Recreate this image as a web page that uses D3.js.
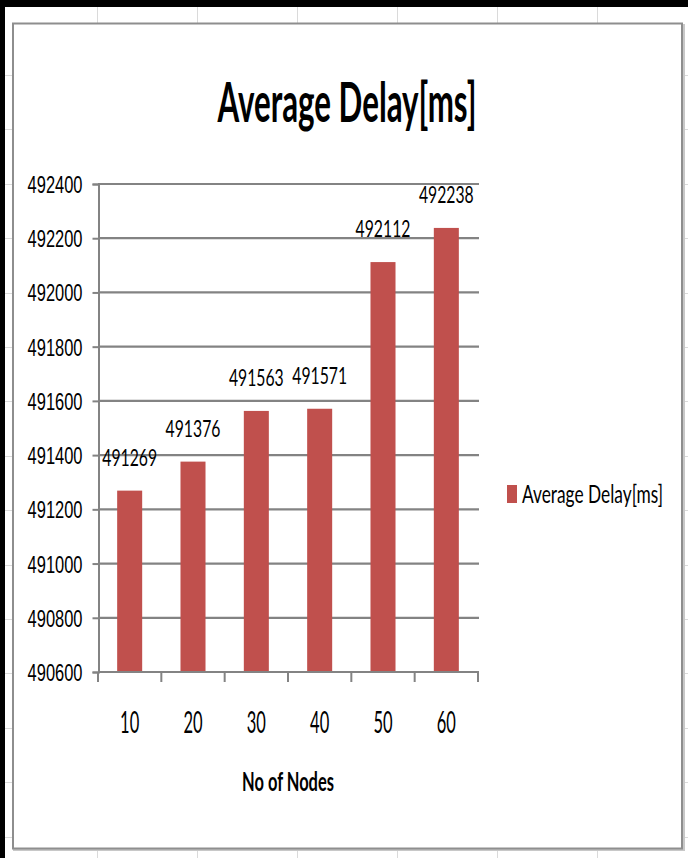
<!DOCTYPE html>
<html>
<head>
<meta charset="utf-8">
<script src="https://cdn.jsdelivr.net/npm/d3@7/dist/d3.min.js"></script>
<style>
  body { margin: 0; background: #fff; }
  svg { display: block; font-family: Lato, 'Open Sans', sans-serif; }
</style>
</head>
<body>
<div class="chart"></div>
<script>
const nodes = ['10', '20', '30', '40', '50', '60']
const avgDelay = [491269, 491376, 491563, 491571, 492112, 492238]
const yTicks = [490600, 490800, 491000, 491200, 491400, 491600, 491800, 492000, 492200, 492400]
const chartTitle = 'Average Delay[ms]'
const xTitle = 'No of Nodes'
const seriesName = 'Average Delay[ms]'

const W = 688
const H = 858
const barColor = '#c0504d'
const gridColor = '#838383'

// squeeze text horizontally, the picture is a stretched Excel chart
const squeeze = (sel, f) => {
  sel.each(function() {
    const n = this.getComputedTextLength()
    d3.select(this)
      .attr('textLength', n * f)
      .attr('lengthAdjust', 'spacingAndGlyphs')
  })
}

const svg = d3
  .select('.chart')
  .append('svg')
  .attr('width', W)
  .attr('height', H)

// spreadsheet cells behind the chart
const sheet = svg.append('g').attr('stroke', '#dadada').attr('stroke-width', 1)
d3.range(97, W, 100).forEach(cx => {
  sheet.append('line').attr('x1', cx + 0.5).attr('x2', cx + 0.5).attr('y1', 0).attr('y2', H)
})
d3.range(75, H, 54.4).forEach(cy => {
  sheet.append('line').attr('x1', 0).attr('x2', W).attr('y1', Math.round(cy) + 0.5).attr('y2', Math.round(cy) + 0.5)
})

// window edges
svg.append('rect').attr('x', 0).attr('y', 0).attr('width', W).attr('height', 7).attr('fill', '#000')
svg.append('rect').attr('x', 0).attr('y', 0).attr('width', 5).attr('height', H).attr('fill', '#000')

// chart frame with a little shadow
svg
  .append('rect')
  .attr('x', 14)
  .attr('y', 25)
  .attr('width', 670)
  .attr('height', 825)
  .attr('fill', 'none')
  .attr('stroke', '#c8c8c8')
  .attr('stroke-width', 2)
svg
  .append('rect')
  .attr('x', 13)
  .attr('y', 23.5)
  .attr('width', 669)
  .attr('height', 825)
  .attr('fill', '#fff')
  .attr('stroke', '#8e8e8e')
  .attr('stroke-width', 2)

const x = d3
  .scaleBand()
  .domain(nodes)
  .range([98, 478])
  .paddingInner(0.605)
  .paddingOuter(0.3025)

const y = d3
  .scaleLinear()
  .domain([490600, 492400])
  .range([672, 184])

// gridlines
svg
  .append('g')
  .selectAll('line')
  .data(yTicks.slice(1))
  .enter()
  .append('line')
  .attr('x1', 98)
  .attr('x2', 479)
  .attr('y1', d => y(d))
  .attr('y2', d => y(d))
  .attr('stroke', gridColor)
  .attr('stroke-width', 2.2)

// y axis
const yAxis = svg
  .append('g')
  .attr('transform', 'translate(98.5,0)')
  .call(d3.axisLeft(y).tickValues(yTicks).tickSize(6).tickPadding(10).tickFormat(d3.format('d')))
yAxis.select('.domain').attr('stroke', gridColor).attr('stroke-width', 2)
yAxis.selectAll('.tick line').attr('stroke', gridColor).attr('stroke-width', 2)
yAxis
  .selectAll('.tick text')
  .attr('font-size', 23.5)
  .attr('fill', '#000')
  .attr('dy', '0.36em')
  .call(squeeze, 0.7)

// bars
svg
  .append('g')
  .selectAll('rect')
  .data(avgDelay)
  .enter()
  .append('rect')
  .attr('x', (d, i) => x(nodes[i]))
  .attr('width', x.bandwidth())
  .attr('y', d => y(d))
  .attr('height', d => y(490600) - y(d))
  .attr('fill', barColor)

// data labels
svg
  .append('g')
  .selectAll('text')
  .data(avgDelay)
  .enter()
  .append('text')
  .attr('x', (d, i) => x(nodes[i]) + x.bandwidth() / 2)
  .attr('y', d => y(d) - 25)
  .attr('text-anchor', 'middle')
  .attr('font-size', 23.5)
  .attr('fill', '#000')
  .text(d => d)
  .call(squeeze, 0.67)

// x axis
const xBounds = nodes.map(d => x(d) - (x.step() - x.bandwidth()) / 2).concat([478])
svg
  .append('line')
  .attr('x1', 98)
  .attr('x2', 479)
  .attr('y1', y(490600))
  .attr('y2', y(490600))
  .attr('stroke', gridColor)
  .attr('stroke-width', 2)
svg
  .append('g')
  .selectAll('line')
  .data(xBounds)
  .enter()
  .append('line')
  .attr('x1', d => d)
  .attr('x2', d => d)
  .attr('y1', y(490600))
  .attr('y2', y(490600) + 10)
  .attr('stroke', gridColor)
  .attr('stroke-width', 2)
svg
  .append('g')
  .selectAll('text')
  .data(nodes)
  .enter()
  .append('text')
  .attr('x', d => x(d) + x.bandwidth() / 2)
  .attr('y', 733)
  .attr('text-anchor', 'middle')
  .attr('font-size', 30)
  .attr('fill', '#000')
  .text(d => d)
  .call(squeeze, 0.55)

// titles
svg
  .append('text')
  .attr('x', 347)
  .attr('y', 122)
  .attr('text-anchor', 'middle')
  .attr('font-size', 56)
  .attr('font-weight', 'bold')
  .attr('fill', '#000')
  .text(chartTitle)
  .attr('textLength', 259)
  .attr('lengthAdjust', 'spacingAndGlyphs')

svg
  .append('text')
  .attr('x', 288)
  .attr('y', 791)
  .attr('text-anchor', 'middle')
  .attr('font-size', 27)
  .attr('font-weight', 'bold')
  .attr('fill', '#000')
  .text(xTitle)
  .attr('textLength', 92)
  .attr('lengthAdjust', 'spacingAndGlyphs')

// legend
const legend = svg.append('g').attr('transform', 'translate(507,485)')
legend
  .append('rect')
  .attr('width', 10)
  .attr('height', 18)
  .attr('fill', barColor)
legend
  .append('text')
  .attr('x', 15)
  .attr('y', 18)
  .attr('font-size', 25)
  .attr('fill', '#000')
  .text(seriesName)
  .attr('textLength', 141)
  .attr('lengthAdjust', 'spacingAndGlyphs')
</script>
</body>
</html>
